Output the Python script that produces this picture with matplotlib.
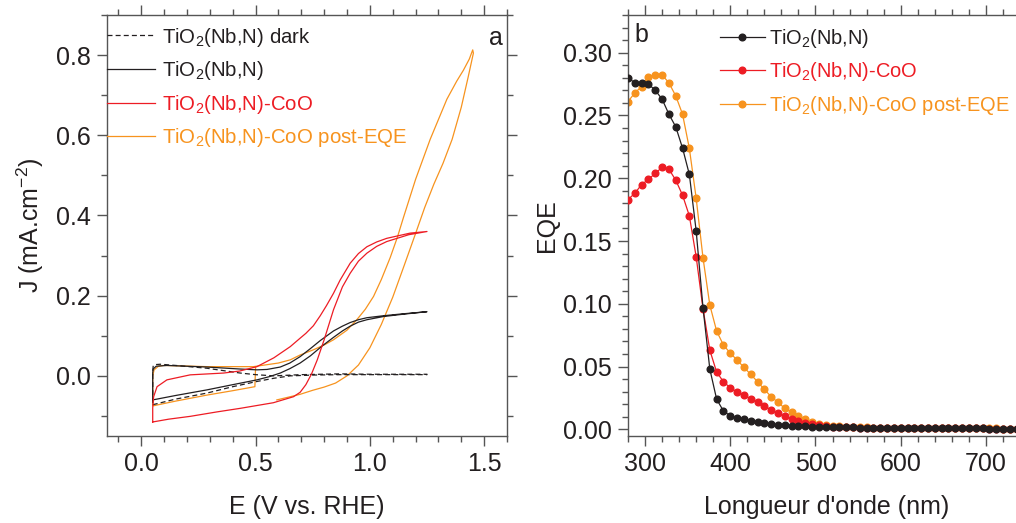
import matplotlib
matplotlib.use("Agg")
import matplotlib.pyplot as plt
from matplotlib.ticker import MultipleLocator, FormatStrFormatter

plt.rcParams['font.family'] = ['Liberation Sans', 'DejaVu Sans']
plt.rcParams['mathtext.fontset'] = 'custom'
plt.rcParams['mathtext.rm'] = 'Liberation Sans'
plt.rcParams['mathtext.it'] = 'Liberation Sans'
plt.rcParams['mathtext.default'] = 'regular'

BLACK = '#231f20'
RED = '#ed1c24'
ORANGE = '#f7931e'
SPINE = '#555555'

# ---------------- Panel a data: cyclic voltammograms (E in V vs RHE, J in mA/cm2)
dark_E = [0.05, 0.15, 0.287, 0.40, 0.506, 0.58, 0.652, 0.75, 0.87, 1.0, 1.25,
          1.25, 1.0, 0.87, 0.70, 0.578, 0.50, 0.433, 0.287, 0.15, 0.083, 0.060, 0.052, 0.05, 0.05]
dark_J = [-0.072, -0.058, -0.043, -0.027, -0.014, -0.006, 0.000, 0.002, 0.003, 0.003, 0.003,
          0.004, 0.004, 0.005, 0.003, 0.000, 0.003, 0.007, 0.019, 0.026, 0.029, 0.028, 0.024, 0.010, -0.072]

nbn_E = [0.05, 0.15, 0.287, 0.40, 0.506, 0.56, 0.608, 0.65, 0.695, 0.74, 0.79, 0.841, 0.88, 0.914, 0.95, 0.987, 1.06, 1.15, 1.25,
         1.25, 1.15, 1.06, 0.987, 0.95, 0.914, 0.88, 0.841, 0.783, 0.74, 0.695, 0.65, 0.608, 0.55, 0.506, 0.433, 0.287, 0.112, 0.065, 0.052, 0.05, 0.05]
nbn_J = [-0.060, -0.049, -0.035, -0.022, -0.010, -0.002, 0.007, 0.018, 0.032, 0.050, 0.074, 0.096, 0.112, 0.124, 0.134, 0.140, 0.148, 0.154, 0.160,
         0.160, 0.155, 0.150, 0.145, 0.140, 0.133, 0.124, 0.112, 0.088, 0.068, 0.048, 0.032, 0.022, 0.016, 0.015, 0.017, 0.022, 0.026, 0.024, 0.017, 0.008, -0.060]

coo_E = [0.05, 0.12, 0.214, 0.33, 0.433, 0.578, 0.666, 0.695, 0.72, 0.745, 0.77, 0.80, 0.841, 0.88, 0.914, 0.95, 0.987, 1.03, 1.074, 1.17, 1.25,
         1.25, 1.176, 1.074, 1.03, 0.987, 0.95, 0.914, 0.87, 0.841, 0.81, 0.783, 0.753, 0.72, 0.695, 0.652, 0.58, 0.506, 0.43, 0.36, 0.214, 0.112, 0.069, 0.054, 0.05, 0.05]
coo_J = [-0.115, -0.108, -0.101, -0.090, -0.081, -0.067, -0.052, -0.041, -0.022, 0.005, 0.040, 0.090, 0.165, 0.222, 0.256, 0.286, 0.306, 0.323, 0.335, 0.352, 0.360,
         0.360, 0.356, 0.343, 0.334, 0.322, 0.305, 0.281, 0.239, 0.206, 0.175, 0.150, 0.125, 0.106, 0.094, 0.073, 0.045, 0.023, 0.012, 0.007, 0.0025, -0.010, -0.027, -0.052, -0.080, -0.115]

post_E = [0.50, 0.497, 0.40, 0.287, 0.15, 0.05, 0.05, 0.056, 0.075, 0.098, 0.287, 0.491, 0.60, 0.652, 0.695, 0.753, 0.80, 0.841, 0.90, 0.943,
          0.98, 1.016, 1.05, 1.089, 1.12, 1.147, 1.20, 1.264, 1.337, 1.38, 1.409, 1.435, 1.45,
          1.453, 1.43, 1.40, 1.36, 1.32, 1.28, 1.24, 1.20, 1.15, 1.10, 1.05, 1.00, 0.95, 0.90, 0.85, 0.80, 0.75, 0.695, 0.652, 0.593]
post_J = [0.021, -0.027, -0.037, -0.048, -0.063, -0.075, 0.000, 0.015, 0.024, 0.026, 0.023, 0.023, 0.032, 0.040, 0.052, 0.065, 0.077, 0.090, 0.114, 0.140,
          0.166, 0.198, 0.240, 0.295, 0.345, 0.395, 0.490, 0.590, 0.690, 0.735, 0.762, 0.790, 0.813,
          0.805, 0.745, 0.670, 0.590, 0.530, 0.478, 0.420, 0.355, 0.275, 0.196, 0.128, 0.070, 0.027, 0.000, -0.018, -0.028, -0.036, -0.046, -0.052, -0.060]

# ---------------- Panel b data: EQE vs wavelength (nm)
wavelength = [280, 288, 296, 304, 312, 320, 328, 336, 344, 352, 360, 368, 376, 384, 392, 400, 408, 416, 424, 432,
              440, 448, 456, 464, 472, 480, 488, 496, 504, 512, 520, 528, 536, 544, 552, 560, 568, 576, 584, 592,
              600, 608, 616, 624, 632, 640, 648, 656, 664, 672, 680, 688, 696, 704, 712, 720, 728, 736]
eqe_nbn = [0.280, 0.276, 0.2755, 0.275, 0.270, 0.263, 0.251, 0.241, 0.224, 0.203, 0.158, 0.097, 0.048, 0.024, 0.0146,
           0.0108, 0.0092, 0.0083, 0.0070, 0.0060, 0.0050, 0.0042, 0.0036, 0.0032, 0.0028, 0.0025, 0.0023, 0.0021,
           0.0019, 0.0018, 0.0017, 0.0016, 0.0015, 0.0015, 0.0014, 0.0014, 0.0013, 0.0013, 0.0012, 0.0012, 0.0011,
           0.0011, 0.0010, 0.0010, 0.0010, 0.0009, 0.0009, 0.0009, 0.0008, 0.0008, 0.0007, 0.0007, 0.0007, 0.0006,
           0.0006, 0.0006, 0.0005, 0.0005]
eqe_coo = [0.183, 0.188, 0.195, 0.199, 0.204, 0.2086, 0.2072, 0.1985, 0.1865, 0.170, 0.1374, 0.096, 0.0631, 0.0456,
           0.0379, 0.0331, 0.0297, 0.0273, 0.0244, 0.0215, 0.0186, 0.0154, 0.0127, 0.0106, 0.0084, 0.0069, 0.0053,
           0.0043, 0.0033, 0.0027, 0.0022, 0.0019, 0.0017, 0.0015, 0.0014, 0.0013, 0.0013, 0.0012, 0.0012, 0.0011,
           0.0011, 0.0010, 0.0010, 0.0010, 0.0009, 0.0009, 0.0009, 0.0008, 0.0008, 0.0008, 0.0007, 0.0007, 0.0007,
           0.0006, 0.0006, 0.0006, 0.0005, 0.0005]
eqe_post = [0.261, 0.268, 0.273, 0.281, 0.2823, 0.2823, 0.276, 0.2656, 0.251, 0.2237, 0.184, 0.1366, 0.099, 0.0783,
            0.0671, 0.0607, 0.0552, 0.0494, 0.0438, 0.0379, 0.0318, 0.026, 0.0215, 0.0167, 0.0135, 0.0106, 0.0080,
            0.0058, 0.0043, 0.0033, 0.0027, 0.0023, 0.0020, 0.0018, 0.0016, 0.0015, 0.0014, 0.0013, 0.0013, 0.0012,
            0.0012, 0.0011, 0.0011, 0.0010, 0.0010, 0.0010, 0.0009, 0.0009, 0.0009, 0.0008, 0.0008, 0.0008, 0.0007,
            0.0007, 0.0007, 0.0006, 0.0006, 0.0006]

labels_a = ['TiO$_2$(Nb,N) dark', 'TiO$_2$(Nb,N)', 'TiO$_2$(Nb,N)-CoO', 'TiO$_2$(Nb,N)-CoO post-EQE']
labels_b = ['TiO$_2$(Nb,N)', 'TiO$_2$(Nb,N)-CoO', 'TiO$_2$(Nb,N)-CoO post-EQE']

W, H = 1016, 523
fig = plt.figure(figsize=(W / 100, H / 100), dpi=100)

def px_axes(l, r, t, b):
    return [l / W, 1 - b / H, (r - l) / W, (b - t) / H]

def style(ax):
    for s in ax.spines.values():
        s.set_color(SPINE)
        s.set_linewidth(1.0)
    ax.tick_params(which='both', direction='out', color=SPINE, width=1.0,
                   top=True, right=True, labelsize=18, labelcolor=BLACK, pad=4)
    ax.tick_params(which='major', length=7.5)
    ax.tick_params(which='minor', length=4.5)

# ---------------- Panel a
axa = fig.add_axes(px_axes(107, 507, 15, 436))
la0, = axa.plot(dark_E, dark_J, color=BLACK, lw=0.9, ls=(0, (4, 2.5)), zorder=3)
la1, = axa.plot(nbn_E, nbn_J, color=BLACK, lw=0.9, zorder=3)
la2, = axa.plot(coo_E, coo_J, color=RED, lw=0.9, zorder=4)
la3, = axa.plot(post_E, post_J, color=ORANGE, lw=0.9, zorder=2)
axa.set_xlim(-0.15, 1.60)
axa.set_ylim(-0.15, 0.90)
axa.xaxis.set_major_locator(MultipleLocator(0.5))
axa.xaxis.set_minor_locator(MultipleLocator(0.1))
axa.yaxis.set_major_locator(MultipleLocator(0.2))
axa.yaxis.set_minor_locator(MultipleLocator(0.1))
axa.xaxis.set_major_formatter(FormatStrFormatter('%.1f'))
axa.yaxis.set_major_formatter(FormatStrFormatter('%.1f'))
style(axa)
axa.set_xlabel('E (V vs. RHE)', fontsize=18, color=BLACK, labelpad=14)
axa.set_ylabel('J (mA.cm$^{-2}$)', fontsize=18, color=BLACK, labelpad=7)
leg_a = axa.legend([la0, la1, la2, la3], labels_a, loc='upper left', bbox_to_anchor=(0.0, 0.975),
                   frameon=False, fontsize=14.7, handlelength=2.35, handletextpad=0.35,
                   labelspacing=0.52, borderaxespad=0.0, borderpad=0.0,
                   labelcolor=[BLACK, BLACK, RED, ORANGE])
axa.text(0.99, 0.945, 'a', transform=axa.transAxes, ha='right', va='center', fontsize=18, color=BLACK)

# ---------------- Panel b
axb = fig.add_axes(px_axes(628, 1026, 15, 436))
lb2, = axb.plot(wavelength, eqe_post, color=ORANGE, lw=0.9, marker='o', ms=4.8, mec=ORANGE, mfc=ORANGE, zorder=2)
lb1, = axb.plot(wavelength, eqe_coo, color=RED, lw=0.9, marker='o', ms=4.8, mec=RED, mfc=RED, zorder=3)
lb0, = axb.plot(wavelength, eqe_nbn, color=BLACK, lw=0.9, marker='o', ms=4.8, mec=BLACK, mfc=BLACK, zorder=4)
axb.set_xlim(280, 747)
axb.set_ylim(-0.0053, 0.33)
axb.xaxis.set_major_locator(MultipleLocator(100))
axb.xaxis.set_minor_locator(MultipleLocator(20))
axb.yaxis.set_major_locator(MultipleLocator(0.05))
axb.yaxis.set_minor_locator(MultipleLocator(0.01))
axb.yaxis.set_major_formatter(FormatStrFormatter('%.2f'))
style(axb)
axb.spines['right'].set_visible(False)
axb.tick_params(which='both', right=False)
axb.set_xlabel("Longueur d'onde (nm)", fontsize=18, color=BLACK, labelpad=14)
axb.set_ylabel('EQE', fontsize=18, color=BLACK, labelpad=3)
leg_b = axb.legend([lb0, lb1, lb2], labels_b, loc='upper left', bbox_to_anchor=(0.231, 0.972),
                   frameon=False, fontsize=14.4, handlelength=2.25, handletextpad=0.2,
                   labelspacing=0.52, borderaxespad=0.0, borderpad=0.0,
                   labelcolor=[BLACK, RED, ORANGE])
axb.text(0.015, 0.952, 'b', transform=axb.transAxes, ha='left', va='center', fontsize=18, color=BLACK)

fig.savefig('out.png', dpi=100)
